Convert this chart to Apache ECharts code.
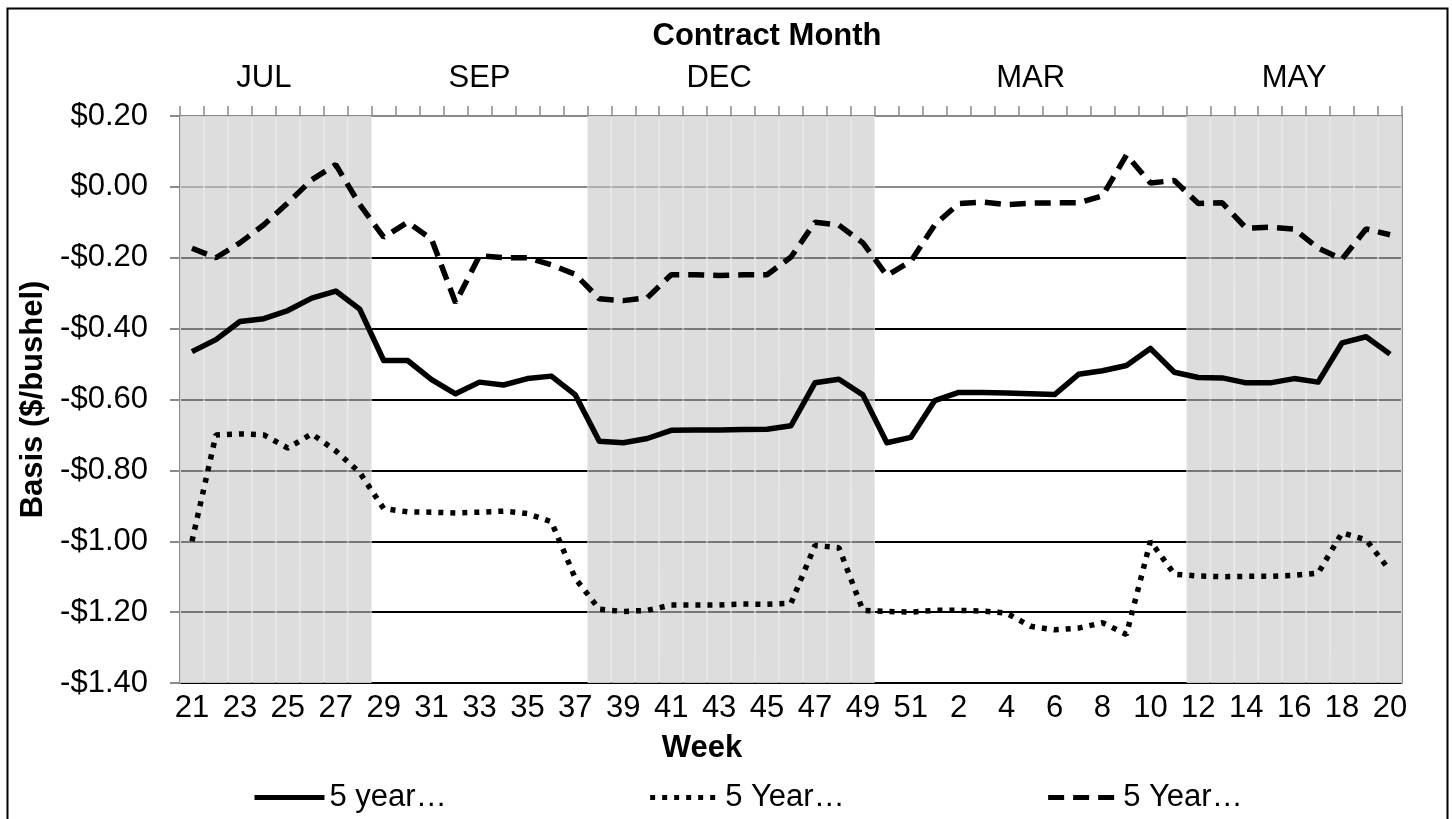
<!DOCTYPE html>
<html>
<head>
<meta charset="utf-8">
<title>Basis by week</title>
<script src="https://cdn.jsdelivr.net/npm/echarts@6/dist/echarts.min.js"></script>
<style>
  html, body { margin: 0; padding: 0; background: #fff; }
  #chart { width: 1452px; height: 819px; }
</style>
</head>
<body>
<div id="chart"></div>
<script>
// week numbers on the x axis (marketing year, week 21 to week 20)
const weeks = ['21','22','23','24','25','26','27','28','29','30','31','32','33','34','35','36','37','38','39','40',
  '41','42','43','44','45','46','47','48','49','50','51','1','2','3','4','5','6','7','8','9','10',
  '11','12','13','14','15','16','17','18','19','20'];

// contract months, how many weeks each covers, and which week the label sits over
const contractMonths = ['JUL', 'SEP', 'DEC', 'MAR', 'MAY'];
const monthWeeks = [8, 9, 12, 13, 9];
const monthLabelAt = [3, 12, 22, 35, 46];

// basis values ($/bushel)
const avgBasis = [-0.465, -0.431, -0.38, -0.372, -0.349, -0.314, -0.294, -0.345, -0.49, -0.49,
  -0.544, -0.584, -0.551, -0.559, -0.541, -0.534, -0.587, -0.718, -0.722, -0.71,
  -0.687, -0.686, -0.686, -0.685, -0.684, -0.674, -0.553, -0.543, -0.587, -0.722,
  -0.707, -0.603, -0.58, -0.58, -0.582, -0.584, -0.586, -0.529, -0.519, -0.504,
  -0.456, -0.523, -0.538, -0.539, -0.553, -0.553, -0.541, -0.551, -0.44, -0.423, -0.472];
const lowBasis = [-1.0, -0.70, -0.697, -0.70, -0.737, -0.697, -0.745, -0.806, -0.908, -0.917,
  -0.918, -0.92, -0.918, -0.915, -0.922, -0.945, -1.105, -1.192, -1.198, -1.195,
  -1.18, -1.18, -1.18, -1.177, -1.178, -1.175, -1.012, -1.018, -1.195, -1.198,
  -1.2, -1.195, -1.195, -1.197, -1.203, -1.24, -1.25, -1.245, -1.23, -1.263,
  -1.0, -1.093, -1.098, -1.1, -1.099, -1.099, -1.096, -1.09, -0.976, -0.996, -1.083];
const highBasis = [-0.173, -0.20, -0.158, -0.107, -0.045, 0.02, 0.063, -0.05, -0.142, -0.10,
  -0.148, -0.327, -0.194, -0.20, -0.20, -0.22, -0.247, -0.316, -0.321, -0.313,
  -0.248, -0.248, -0.25, -0.248, -0.248, -0.198, -0.10, -0.108, -0.158, -0.25,
  -0.21, -0.107, -0.047, -0.043, -0.05, -0.046, -0.045, -0.045, -0.025, 0.09,
  0.011, 0.018, -0.047, -0.045, -0.117, -0.114, -0.119, -0.173, -0.204, -0.119, -0.135];

const seriesNames = ['5 year average', '5 Year Low', '5 Year High'];

// build the shaded columns (every other contract month) and the top labels
const shade = [];
contractMonths.forEach((m, k) => {
  for (let j = 0; j < monthWeeks[k]; j++) shade.push(k % 2 === 0 ? 1 : '-');
});
const topLabels = weeks.map(() => '');
monthLabelAt.forEach((idx, k) => { topLabels[idx] = contractMonths[k]; });

const FONT = 'Liberation Sans, Arial, sans-serif';
const FS = 31;
const GRAY = '#8a8a8a';

const chart = echarts.init(document.getElementById('chart'), null, {renderer: 'canvas'});

const option = {
  animation: false,
  backgroundColor: '#fff',
  textStyle: {fontFamily: FONT, color: '#000'},
  grid: {left: 180, right: 50, top: 116, bottom: 136, containLabel: false},
  legend: {
    left: 247,
    top: 777,
    itemGap: 201,
    itemWidth: 70,
    itemHeight: 14,
    itemStyle: {opacity: 0},   // hide the little circle, keep the line
    lineStyle: {width: 5},
    textStyle: {fontSize: FS, color: '#000', fontFamily: FONT},
    formatter: name => name.slice(0, 6) + '…',
    data: seriesNames
  },
  graphic: [{
    type: 'rect',
    left: 5, top: 6,
    shape: {width: 1440, height: 830},
    style: {fill: 'none', stroke: '#000', lineWidth: 2},
    silent: true
  }],
  xAxis: [
    {
      // week labels
      type: 'category',
      data: weeks,
      position: 'bottom',
      axisLine: {show: false, onZero: false},
      axisTick: {show: false},
      axisLabel: {interval: 1, fontSize: FS, color: '#000', margin: 10},
      name: 'Week',
      nameLocation: 'middle',
      nameGap: 50,
      nameTextStyle: {fontSize: FS, fontWeight: 'bold', color: '#000', padding: [0, 178, 0, 0]}
    },
    {
      // horizontal axis line crossing at zero
      type: 'category',
      data: weeks,
      position: 'bottom',
      axisLine: {show: true, onZero: true, onZeroAxisIndex: 0, lineStyle: {color: GRAY, width: 2}},
      axisTick: {show: false},
      axisLabel: {show: false}
    },
    {
      // contract month axis on top
      type: 'category',
      data: topLabels,
      position: 'top',
      axisLine: {show: true, onZero: false, lineStyle: {color: GRAY, width: 2}},
      axisTick: {show: true, interval: 0, length: 10, lineStyle: {color: GRAY, width: 1.5}},
      axisLabel: {interval: 0, fontSize: FS, color: '#000', margin: 22},
      name: 'Contract Month',
      nameLocation: 'middle',
      nameGap: 64,
      nameTextStyle: {fontSize: FS, fontWeight: 'bold', color: '#000', padding: [0, 48, 0, 0]}
    }
  ],
  yAxis: [
    {
      type: 'value',
      min: -1.4,
      max: 0.2,
      interval: 0.2,
      axisLine: {show: true, onZero: false, lineStyle: {color: GRAY, width: 2}},
      axisTick: {show: true, length: 10, lineStyle: {color: GRAY, width: 2}},
      splitLine: {show: true, lineStyle: {color: '#000', width: 2}},
      axisLabel: {
        fontSize: FS, color: '#000', margin: 32,
        formatter: v => (v < -0.0001 ? '-' : '') + '$' + Math.abs(v).toFixed(2)
      },
      name: 'Basis ($/bushel)',
      nameLocation: 'middle',
      nameGap: 127,
      nameTextStyle: {fontSize: FS, fontWeight: 'bold', color: '#000'}
    },
    {
      // hidden scale for the shaded contract-month columns
      type: 'value',
      min: 0,
      max: 1,
      position: 'right',
      axisLine: {show: true, onZero: false, lineStyle: {color: GRAY, width: 2}},
      axisTick: {show: false},
      axisLabel: {show: false},
      splitLine: {show: false}
    }
  ],
  series: [
    {
      name: 'shade',
      type: 'bar',
      xAxisIndex: 0,
      yAxisIndex: 1,
      data: shade,
      barWidth: '100%',
      barCategoryGap: '0%',
      silent: true,
      z: 1,
      itemStyle: {color: 'rgba(198,198,198,0.6)', borderColor: 'rgba(228,228,228,0.8)', borderWidth: 1}
    },
    {
      name: seriesNames[0],
      type: 'line',
      data: avgBasis,
      symbol: 'none',
      z: 5,
      lineStyle: {color: '#000', width: 5.5, type: 'solid', join: 'round'},
      itemStyle: {color: '#000'}
    },
    {
      name: seriesNames[1],
      type: 'line',
      data: lowBasis,
      symbol: 'none',
      z: 5,
      lineStyle: {color: '#000', width: 5.5, type: [5, 7], cap: 'butt'},
      itemStyle: {color: '#000'}
    },
    {
      name: seriesNames[2],
      type: 'line',
      data: highBasis,
      symbol: 'none',
      z: 5,
      lineStyle: {color: '#000', width: 5.5, type: [16, 9], cap: 'butt'},
      itemStyle: {color: '#000'}
    }
  ]
};

chart.setOption(option);
</script>
</body>
</html>
